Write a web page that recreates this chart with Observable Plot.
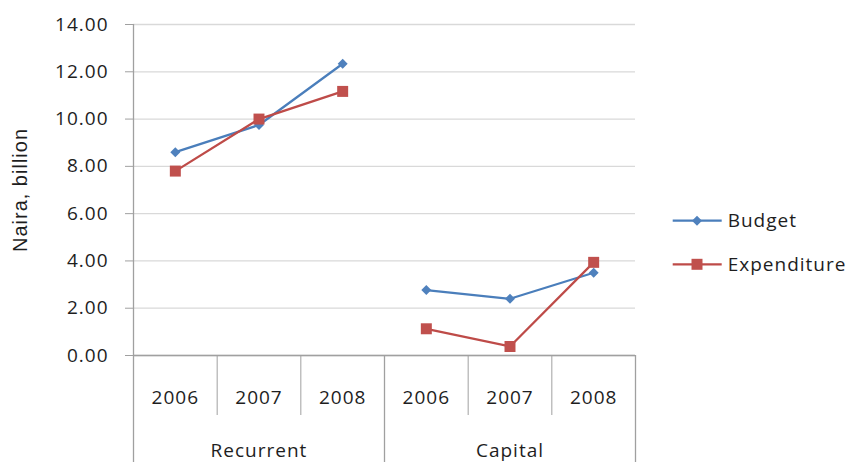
<!DOCTYPE html>
<html>
<head>
<meta charset="utf-8">
<script src="https://cdn.jsdelivr.net/npm/d3@7"></script>
<script src="https://cdn.jsdelivr.net/npm/@observablehq/plot@0.6"></script>
<style>
  html, body { margin: 0; padding: 0; background: #fff; }
  #chart svg { display: block; }
</style>
</head>
<body>
<div id="chart"></div>
<script>
// Budget vs expenditure, Naira billion, by spending type and year
const groups = ["Recurrent", "Capital"];
const years = ["2006", "2007", "2008"];
const seriesNames = ["Budget", "Expenditure"];
const budgetRecurrent = [8.60, 9.75, 12.34];
const expenditureRecurrent = [7.80, 10.00, 11.17];
const budgetCapital = [2.77, 2.40, 3.50];
const expenditureCapital = [1.13, 0.38, 3.94];
const yTicks = [0, 2, 4, 6, 8, 10, 12, 14];
const colors = ["#4a7ebb", "#be4b48"];
const markerColors = ["#4f81bd", "#c0504d"];

// Flatten into rows; pos is the category index (centre of each year slot)
const values = {
  Recurrent: {Budget: budgetRecurrent, Expenditure: expenditureRecurrent},
  Capital: {Budget: budgetCapital, Expenditure: expenditureCapital}
};
const rows = [];
const cats = [];
groups.forEach((g, gi) => {
  years.forEach((yr, yi) => {
    const pos = gi * years.length + yi + 0.5;
    cats.push({group: g, year: yr, pos});
    seriesNames.forEach(s => rows.push({group: g, year: yr, pos, series: s, value: values[g][s][yi]}));
  });
});
const groupCentres = groups.map((g, gi) => ({group: g, pos: gi * years.length + years.length / 2}));
const yearBounds = d3.range(0, cats.length + 1).filter(i => i % years.length !== 0);
const groupBounds = d3.range(0, cats.length + 1, years.length);

const font = "'Open Sans', sans-serif";
const axisGray = "#a0a0a0";
const textColor = "#1e1e1e";

const chart = Plot.plot({
  width: 851,
  height: 462,
  marginLeft: 133,
  marginRight: 216,
  marginTop: 24,
  marginBottom: 107,
  style: {fontFamily: font, fontSize: "19px", letterSpacing: "1px", color: textColor, background: "#fff", overflow: "visible"},
  x: {domain: [0, cats.length], axis: null},
  y: {domain: [0, 14], axis: null},
  color: {domain: seriesNames, range: colors},
  marks: [
    Plot.gridY(yTicks, {stroke: "#d9d9d9", strokeOpacity: 1, strokeWidth: 1.3}),
    Plot.axisY(yTicks, {tickSize: 8, tickPadding: 17, tickFormat: d => d.toFixed(2), stroke: axisGray, fill: textColor, fontSize: 19, label: null}),
    Plot.ruleX([0], {stroke: axisGray, strokeWidth: 1.3}),
    Plot.ruleY([0], {stroke: axisGray, strokeWidth: 1.3}),
    // category separators below the axis
    Plot.axisX(yearBounds, {tickSize: 60, tickFormat: null, stroke: axisGray, label: null, text: null}),
    Plot.axisX(groupBounds, {tickSize: 107, tickFormat: null, stroke: axisGray, strokeWidth: 1.3, label: null, text: null}),
    Plot.text(cats, {x: "pos", text: "year", frameAnchor: "bottom", dy: 42, lineAnchor: "middle", fill: textColor}),
    Plot.text(groupCentres, {x: "pos", text: "group", frameAnchor: "bottom", dy: 95, lineAnchor: "middle", fill: textColor}),
    Plot.text(["Naira, billion"], {frameAnchor: "left", dx: -113, rotate: -90, textAnchor: "middle", lineAnchor: "middle", fill: textColor,
      fontFamily: "'Liberation Sans', Arial, sans-serif", fontSize: 20, letterSpacing: 0.7}),
    // series lines, broken between spending types
    Plot.line(rows, {x: "pos", y: "value", z: d => d.series + d.group, stroke: "series", strokeWidth: 2.25}),
    Plot.dot(rows.filter(d => d.series === "Budget"), {x: "pos", y: "value", symbol: "diamond2", r: 4.5, fill: markerColors[0], stroke: null}),
    Plot.dot(rows.filter(d => d.series === "Expenditure"), {x: "pos", y: "value", symbol: "square", r: 6.2, fill: markerColors[1], stroke: null})
  ]
});

// Legend to the right of the plot area
const svg = d3.select(chart);
const legend = svg.append("g")
  .attr("font-family", font)
  .attr("font-size", 19)
  .attr("letter-spacing", "1px")
  .attr("text-anchor", "start");
const legendItems = [
  {name: "Budget", y: 220.7, symbol: d3.symbolDiamond2, size: 64},
  {name: "Expenditure", y: 264.3, symbol: d3.symbolSquare, size: 121}
];
legendItems.forEach((item, i) => {
  const g = legend.append("g").attr("transform", `translate(0,${item.y})`);
  g.append("line").attr("x1", 672.7).attr("x2", 721.7).attr("stroke", colors[i]).attr("stroke-width", 2.25);
  g.append("path").attr("transform", "translate(697,0)").attr("d", d3.symbol(item.symbol, item.size)()).attr("fill", markerColors[i]);
  g.append("text").attr("x", 727.7).attr("dy", "0.35em").attr("fill", textColor).text(item.name);
});

document.getElementById("chart").appendChild(chart);
</script>
</body>
</html>
